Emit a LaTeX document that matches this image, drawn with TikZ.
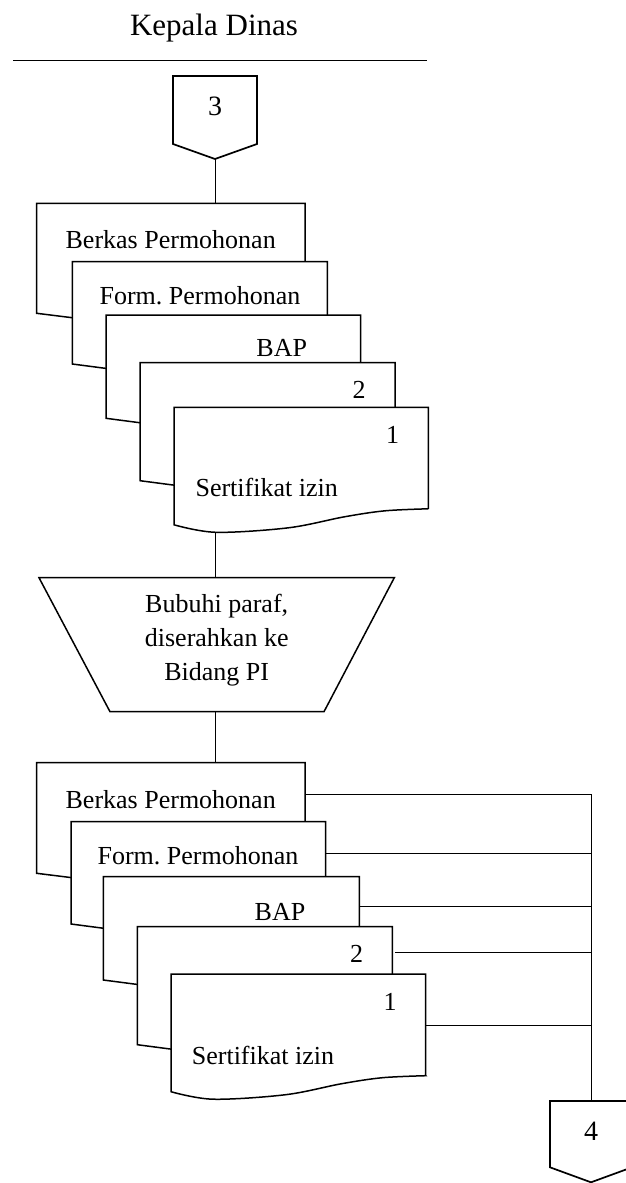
\documentclass[tikz,border=0pt]{standalone}
\usepackage{fontspec}
\setmainfont{Liberation Serif}
\usetikzlibrary{calc}
\pgfdeclarelayer{bg}
\pgfsetlayers{bg,main}
\frenchspacing

% A document symbol lying under another one: only its left part shows,
% so its lower edge is a plain slanted line.
% #1 name, #2 left x, #3 top y, #4 width, #5 y of the lower left corner
\newcommand\backdoc[5]{%
  \pgfmathsetmacro\docH{#5-16-#3}%
  \pgfmathsetmacro\docMx{#2+0.3*#4}%
  \pgfmathsetmacro\docMy{#5+10}%
  \node[docbox, minimum width=#4pt, minimum height=\docH pt, anchor=north west] (#1) at (#2,#3) {};
  \draw[docline] (#1.north west) -- (#1.north east) -- (#1.south east)
    -- (\docMx,\docMy) -- ($(#1.south west)+(0,16)$) -- cycle;
}

% The front document symbol, with the full wavy lower edge.
\newcommand\frontdoc[5]{%
  \pgfmathsetmacro\docH{#5-16-#3}%
  \pgfmathsetmacro\wxA{#2+0.83*#4}\pgfmathsetmacro\wyA{#5-14}%
  \pgfmathsetmacro\wxB{#2+0.67*#4}\pgfmathsetmacro\wyB{#5-8}%
  \pgfmathsetmacro\wxC{#2+0.45*#4}\pgfmathsetmacro\wyC{#5+3}%
  \pgfmathsetmacro\wxD{#2+0.165*#4}\pgfmathsetmacro\wyD{#5+7.5}%
  \pgfmathsetmacro\wxE{#2+#4}\pgfmathsetmacro\wyE{#5-16}%
  \node[docbox, minimum width=#4pt, minimum height=\docH pt, anchor=north west] (#1) at (#2,#3) {};
  \draw[docline] (#1.north west) -- (#1.north east) -- (#1.south east)
    -- plot[smooth, tension=0.55] coordinates {(\wxE,\wyE) (\wxA,\wyA) (\wxB,\wyB) (\wxC,\wyC) (\wxD,\wyD) (#2,#5)}
    -- cycle;
}

\begin{document}
\begin{tikzpicture}[x=1pt,y=-1pt,
  docline/.style={draw=black, line width=1.5pt, fill=white},
  docbox/.style={rectangle, draw=none, inner sep=0pt, outer sep=0pt},
  thinline/.style={draw=black, line width=0.8pt},
  offpage/.style={draw=black, line width=1.7pt, fill=white, line join=miter},
  lbl/.style={font=\fontsize{26}{34}\selectfont, inner sep=0pt, anchor=base},
  num/.style={font=\fontsize{28}{34}\selectfont, inner sep=0pt, anchor=base}]
\useasboundingbox (0,0) rectangle (625,1183);

% heading of the swimlane
\node[font=\fontsize{31}{36}\selectfont, inner sep=0pt, anchor=base] (title) at (214,35) {Kepala Dinas};
\coordinate (ruleL) at (13,60.7);
\coordinate (ruleR) at (427,60.7);
\draw[thinline] (ruleL) -- (ruleR);

% off-page connector 3
\node[docbox, minimum width=84pt, minimum height=68pt, anchor=north] (c3) at (215,76) {};
\coordinate (c3tip) at ($(c3.south)+(0,15)$);
\draw[offpage] (c3.north west) -- (c3.north east) -- (c3.south east) -- (c3tip) -- (c3.south west) -- cycle;
\node[num] (n3) at (215,115) {3};

% first stack of documents
\backdoc{d1}{36.7}{203.3}{268.3}{313.3}
\node[lbl] (d1t) at (170.7,248.5) {Berkas Permohonan};
\backdoc{d2}{72.3}{261.7}{255}{364}
\node[lbl] (d2t) at (200,304.5) {Form. Permohonan};
\backdoc{d3}{106}{315}{254.7}{418.3}
\node[lbl] (d3t) at (281.7,356.5) {BAP};
\backdoc{d4}{140}{362.7}{255}{480.7}
\node[lbl] (d4t) at (359,398.5) {2};
\frontdoc{d5}{174}{407.3}{254.3}{524.8}
\node[lbl] (d5n) at (392.7,443.5) {1};
\node[lbl] (d5t) at (266.7,496.8) {Sertifikat izin};

% manual operation
\node[docbox, minimum width=355.3pt, minimum height=134pt] (tz) at (216.65,644.7) {};
\draw[docline] (tz.north west) -- (tz.north east) -- ($(tz.south east)+(-70.3,0)$)
  -- ($(tz.south west)+(71,0)$) -- cycle;
\node[font=\fontsize{26}{34}\selectfont, align=center, inner sep=0pt] (tzt) at (216.7,640)
  {Bubuhi paraf,\\diserahkan ke\\Bidang PI};

% second stack of documents
\backdoc{e1}{36.7}{762.7}{268.3}{873.3}
\node[lbl] (e1t) at (170.7,808.5) {Berkas Permohonan};
\backdoc{e2}{71}{821.7}{254.7}{924}
\node[lbl] (e2t) at (198,864.5) {Form. Permohonan};
\backdoc{e3}{103.3}{876.7}{256}{980}
\node[lbl] (e3t) at (280,920.2) {BAP};
\backdoc{e4}{137.3}{926.7}{255}{1044.7}
\node[lbl] (e4t) at (356.7,962.5) {2};
\frontdoc{e5}{171}{974}{254.7}{1091.7}
\node[lbl] (e5n) at (390,1010.5) {1};
\node[lbl] (e5t) at (263,1064.5) {Sertifikat izin};

% off-page connector 4
\node[docbox, minimum width=82pt, minimum height=66.3pt, anchor=north] (c4) at (591,1101) {};
\coordinate (c4tip) at ($(c4.south)+(0,15)$);
\draw[offpage] (c4.north west) -- (c4.north east) -- (c4.south east) -- (c4tip) -- (c4.south west) -- cycle;
\node[num] (n4) at (591,1140) {4};

% bus joints
\coordinate (bus1) at (591,794);
\coordinate (bus2) at (591,853.3);
\coordinate (bus3) at (591,906.7);
\coordinate (bus4) at (591,952.7);
\coordinate (bus5) at (591,1025.7);

% flow lines, kept beneath the shapes
\begin{pgfonlayer}{bg}
  \draw[thinline] (c3tip) -- (c3tip |- d1.north);
  \draw[thinline] (d5.center -| c3tip) -- (tz.north -| c3tip);
  \draw[thinline] (tz.south -| c3tip) -- (e1.north -| c3tip);
  \draw[thinline] (e1.center |- bus1) -- (bus1);
  \draw[thinline] (e2.center |- bus2) -- (bus2);
  \draw[thinline] (e3.center |- bus3) -- (bus3);
  \draw[thinline] ($(e4.east |- bus4)+(2.7,0)$) -- (bus4);
  \draw[thinline] (e5.center |- bus5) -- (bus5);
  \draw[thinline] (bus1) -- (c4.north);
\end{pgfonlayer}
\end{tikzpicture}
\end{document}
